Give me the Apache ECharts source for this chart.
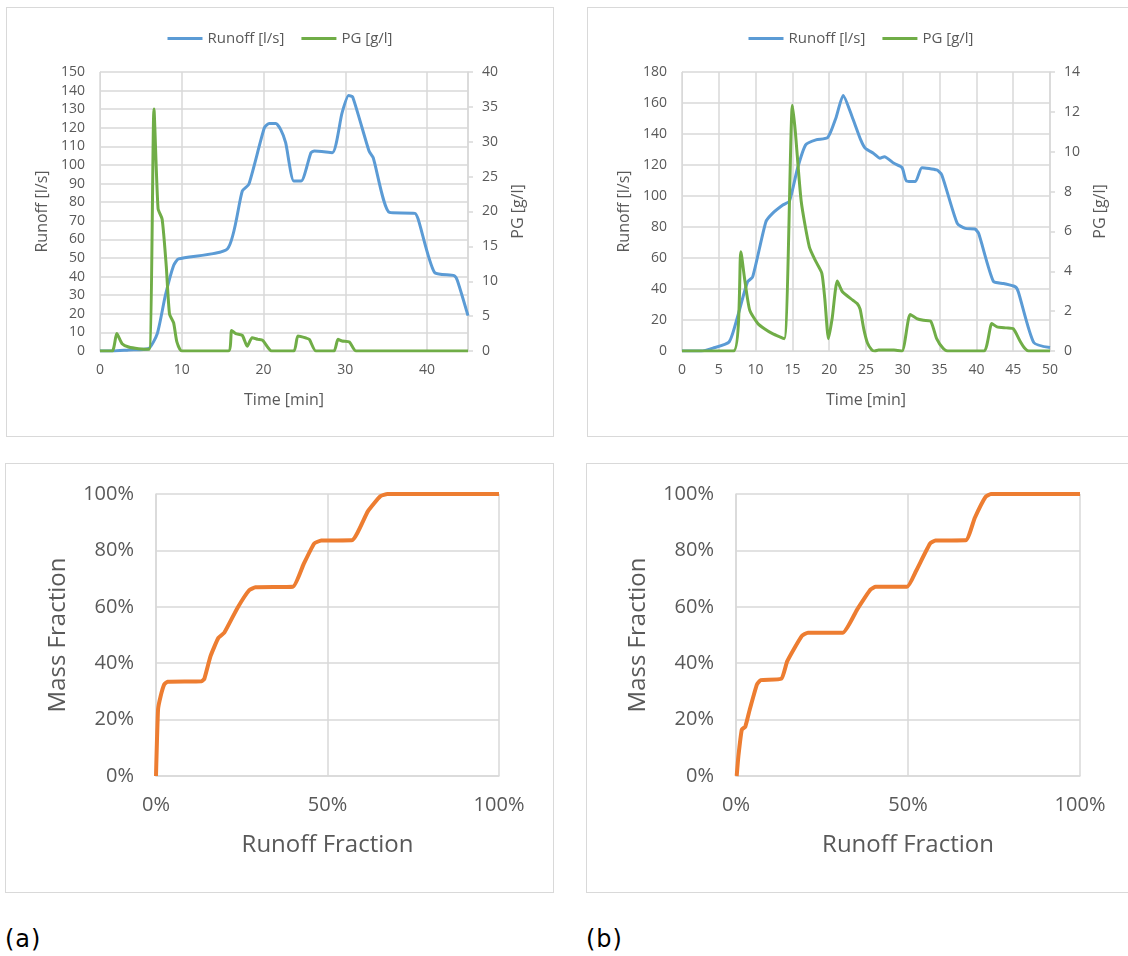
<!DOCTYPE html>
<html lang="en">
<head>
<meta charset="UTF-8">
<title>Runoff / PG</title>
<style>
    * { margin: 0; padding: 0; }
    body { width: 1128px; height: 956px; background: #fff; position: relative; overflow: hidden; }
    .box { position: absolute; border: 1px solid #d9d9d9; box-sizing: border-box; }
    .tag { position: absolute; font-family: "DejaVu Sans"; font-size: 24px; color: #000; letter-spacing: 1px; }
</style>
<script src="https://cdn.jsdelivr.net/npm/echarts/dist/echarts.min.js"></script>
</head>
<body>
    <div id="ta" class="box" style="left:6px;top:7px;width:548px;height:430px;"></div>
    <div id="tb" class="box" style="left:587px;top:7px;width:548px;height:430px;"></div>
    <div id="ba" class="box" style="left:5px;top:463px;width:549px;height:430px;"></div>
    <div id="bb" class="box" style="left:586px;top:463px;width:549px;height:430px;"></div>
    <div class="tag" style="left:5px;top:925px;">(a)</div>
    <div class="tag" style="left:586px;top:925px;">(b)</div>
<script>
// event (a): runoff [l/s] and PG [g/l] vs time [min]
var runoffTimeA = [0, 1.6, 3.5, 5.9, 7.0, 8.0, 9.0, 9.6, 15.6, 17.4, 18.2, 20.1, 20.7, 21.5, 22.1, 22.7, 23.7, 24.6, 25.8, 26.2, 28.4, 29.6, 30.4, 30.9, 32.9, 33.4, 35.4, 38.5, 38.9, 40.9, 43.3, 43.7, 45];
var runoffA = [0, 0, 0.6, 1.2, 9.3, 30, 46, 49.5, 55, 86, 89.6, 120, 122.3, 122.3, 119, 112, 91.4, 91.4, 106.6, 107.5, 106.6, 128, 137.3, 136.6, 107.5, 104, 74.5, 74, 71, 42.3, 40.5, 37.9, 19];
var pgTimeA = [0, 1.5, 2.05, 2.7, 3.5, 4.7, 6.0, 6.6, 7.1, 7.6, 8.1, 8.5, 9.0, 9.4, 10.0, 15.7, 16.1, 16.6, 17.4, 18.0, 18.6, 19.3, 19.9, 21.0, 23.7, 24.2, 25.2, 25.6, 26.4, 28.6, 29.1, 29.6, 30.5, 31.3, 45];
var pgA = [0, 0, 2.5, 1.05, 0.57, 0.33, 0.24, 34.7, 20.4, 18.9, 12.2, 5.3, 4.05, 1.3, 0, 0, 2.95, 2.48, 2.24, 0.67, 1.9, 1.67, 1.52, 0, 0, 2.14, 1.86, 1.67, 0, 0, 1.67, 1.43, 1.29, 0, 0];

// event (b)
var runoffTimeB = [0, 2.6, 4.2, 6.4, 7.6, 8.9, 9.6, 11.4, 12.3, 13.7, 14.6, 15.7, 16.8, 18.2, 19.8, 20.9, 21.9, 23.1, 24.3, 24.9, 26.0, 26.9, 27.5, 28.8, 29.9, 30.5, 31.7, 32.6, 34.6, 35.3, 37.4, 38.5, 39.8, 40.3, 42.3, 43.7, 45.3, 45.7, 47.8, 50];
var runoffB = [0, 0, 1.9, 5.8, 23, 44.6, 47.8, 83.4, 88.8, 94.2, 96.8, 117.9, 133, 136.2, 137.7, 150.2, 164.9, 151.3, 136, 130.8, 127.6, 124.4, 125.4, 121.1, 118.3, 109.7, 109.3, 118.3, 116.8, 113.6, 82.3, 79.1, 78.7, 75.9, 45, 43.5, 41.4, 38.1, 5.4, 2.2];
var pgTimeB = [0, 7.0, 8.0, 8.5, 9.2, 10.3, 11.2, 12.3, 13.9, 15.0, 15.4, 16.2, 17.3, 18.2, 19.0, 19.4, 19.9, 20.4, 21.1, 21.8, 23.2, 23.8, 24.2, 24.7, 25.2, 25.8, 26.2, 26.7, 28.8, 29.9, 31.0, 31.9, 32.8, 33.8, 34.6, 35.5, 36.1, 41.0, 42.1, 42.8, 44.1, 45.0, 46.0, 46.6, 47.1, 50];
var pgB = [0, 0, 4.98, 3.64, 2.05, 1.38, 1.12, 0.87, 0.62, 12.33, 11.0, 7.5, 5.23, 4.48, 3.9, 2.63, 0.62, 1.63, 3.51, 2.97, 2.55, 2.38, 2.1, 1.1, 0.4, 0.05, 0, 0.05, 0.05, 0, 1.83, 1.63, 1.54, 1.49, 0.62, 0.12, 0, 0, 1.38, 1.21, 1.16, 1.12, 0.45, 0.12, 0, 0];

// mass fraction vs runoff fraction [%]
var runFracA = [0, 0.6, 1.35, 2.4, 3.4, 13.3, 14.1, 15.9, 18.2, 19.9, 23.75, 27.1, 29, 39.9, 43, 46.1, 48.2, 57.1, 61.8, 65.4, 67.5, 100];
var massFracA = [0, 23.6, 28.3, 32.5, 33.4, 33.6, 34.5, 42.5, 49, 50.8, 59.6, 65.8, 66.9, 67.1, 75, 82.4, 83.5, 83.6, 93.9, 99.2, 100, 100];
var runFracB = [0.2, 0.7, 1.7, 2.7, 4.0, 6.1, 7.2, 13.2, 14.9, 19.1, 20.9, 31.0, 35.2, 39.1, 40.6, 49.7, 52.3, 56.4, 58, 66.8, 69.4, 72.5, 74.1, 100];
var massFracB = [0, 7.1, 16.5, 17.5, 23.6, 32.5, 34.0, 34.5, 40.7, 49.6, 50.8, 50.8, 59.0, 66.1, 67.1, 67.1, 72.6, 82.4, 83.5, 83.6, 91.5, 98.9, 100, 100];

var FONT = '"Open Sans"';
var TXT = '#595959';
var GRID = '#d9d9d9';

function pairs(xs, ys) {
    return xs.map(function (x, i) { return [x, ys[i]]; });
}

function timeChart(id, gridLeft, xMax, xStep, yMax, yStep, pMax, pStep, tq, q, tp, p) {
    var chart = echarts.init(document.getElementById(id));
    chart.setOption({
        animation: false,
        textStyle: { fontFamily: FONT },
        legend: {
            top: 18,
            left: 'center',
            icon: 'rect',
            itemWidth: 35,
            itemHeight: 3,
            itemGap: 17,
            textStyle: { color: TXT, fontSize: 15, fontFamily: FONT },
            data: ['Runoff [l/s]', 'PG [g/l]']
        },
        grid: { left: gridLeft, top: 64, width: 368, height: 279 },
        xAxis: {
            type: 'value', min: 0, max: xMax, interval: xStep,
            name: 'Time [min]', nameLocation: 'middle', nameGap: 41,
            nameTextStyle: { color: TXT, fontSize: 16, fontFamily: FONT },
            axisLine: { lineStyle: { color: GRID } },
            axisTick: { show: false },
            axisLabel: { color: TXT, fontSize: 14, margin: 12, showMaxLabel: xMax % xStep === 0 },
            splitLine: { lineStyle: { color: GRID, width: 1.5 } }
        },
        yAxis: [{
            type: 'value', min: 0, max: yMax, interval: yStep,
            name: 'Runoff [l/s]', nameLocation: 'middle', nameGap: 48, nameRotate: 90,
            nameTextStyle: { color: TXT, fontSize: 16, fontFamily: FONT },
            axisLine: { show: true, lineStyle: { color: GRID } },
            axisTick: { show: false },
            axisLabel: { color: TXT, fontSize: 14, margin: 15 },
            splitLine: { lineStyle: { color: GRID, width: 1.5 } }
        }, {
            type: 'value', min: 0, max: pMax, interval: pStep, position: 'right',
            name: 'PG [g/l]', nameLocation: 'middle', nameGap: 42, nameRotate: 90,
            nameTextStyle: { color: TXT, fontSize: 16, fontFamily: FONT },
            axisLine: { show: true, lineStyle: { color: GRID, width: 1.5 } },
            axisTick: { show: true, length: 5, lineStyle: { color: GRID, width: 1.5 } },
            axisLabel: { color: TXT, fontSize: 14, margin: 14 },
            splitLine: { show: false }
        }],
        series: [{
            name: 'Runoff [l/s]', type: 'line', yAxisIndex: 0,
            data: pairs(tq, q), symbol: 'none', smooth: 0.2,
            lineStyle: { color: '#5b9bd5', width: 3 }, itemStyle: { color: '#5b9bd5' }
        }, {
            name: 'PG [g/l]', type: 'line', yAxisIndex: 1,
            data: pairs(tp, p), symbol: 'none', smooth: 0.2,
            lineStyle: { color: '#70ad47', width: 3 }, itemStyle: { color: '#70ad47' }
        }]
    });
}

function fracChart(id, gridLeft, gridWidth, xs, ys) {
    var chart = echarts.init(document.getElementById(id));
    chart.setOption({
        animation: false,
        textStyle: { fontFamily: FONT },
        grid: { left: gridLeft, top: 30, width: gridWidth, height: 282 },
        xAxis: {
            type: 'value', min: 0, max: 100, interval: 50,
            name: 'Runoff Fraction', nameLocation: 'middle', nameGap: 57,
            nameTextStyle: { color: TXT, fontSize: 24, fontFamily: FONT },
            axisLine: { lineStyle: { color: GRID, width: 1.5 } },
            axisTick: { show: false },
            axisLabel: { color: TXT, fontSize: 20, margin: 19, formatter: '{value}%' },
            splitLine: { lineStyle: { color: GRID, width: 1.5 } }
        },
        yAxis: {
            type: 'value', min: 0, max: 100, interval: 20,
            name: 'Mass Fraction', nameLocation: 'middle', nameGap: 86, nameRotate: 90,
            nameTextStyle: { color: TXT, fontSize: 24, fontFamily: FONT },
            axisLine: { show: true, lineStyle: { color: GRID, width: 1.5 } },
            axisTick: { show: false },
            axisLabel: { color: TXT, fontSize: 20, margin: 22, formatter: '{value}%' },
            splitLine: { lineStyle: { color: GRID, width: 1.5 } }
        },
        series: [{
            type: 'line', data: pairs(xs, ys), symbol: 'none', smooth: 0.15,
            lineStyle: { color: '#ed7d31', width: 4 }
        }]
    });
}

window.onload = function () {
    timeChart('ta', 93, 45, 10, 150, 10, 40, 5, runoffTimeA, runoffA, pgTimeA, pgA);
    timeChart('tb', 94, 50, 5, 180, 20, 14, 2, runoffTimeB, runoffB, pgTimeB, pgB);
    fracChart('ba', 150, 343, runFracA, massFracA);
    fracChart('bb', 149, 344, runFracB, massFracB);
};
</script>
</body>
</html>
